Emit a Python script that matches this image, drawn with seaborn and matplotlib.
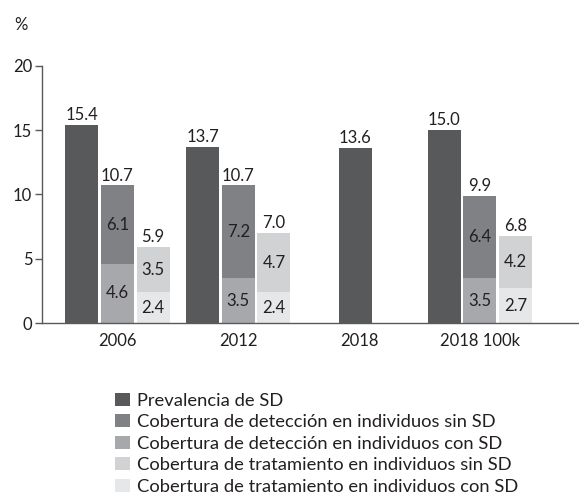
import pandas as pd
import matplotlib
matplotlib.use("Agg")
import matplotlib.pyplot as plt
import seaborn as sns
from matplotlib.patches import Patch

# data
groups = ["2006", "2012", "2018", "2018 100k"]
prevalencia = [15.4, 13.7, 13.6, 15.0]
deteccion_total = [10.7, 10.7, None, 9.9]
deteccion_sin = [6.1, 7.2, None, 6.4]
deteccion_con = [4.6, 3.5, None, 3.5]
tratamiento_total = [5.9, 7.0, None, 6.8]
tratamiento_sin = [3.5, 4.7, None, 4.2]
tratamiento_con = [2.4, 2.4, None, 2.7]

series_names = [
    "Prevalencia de SD",
    "Cobertura de detección en individuos sin SD",
    "Cobertura de detección en individuos con SD",
    "Cobertura de tratamiento en individuos sin SD",
    "Cobertura de tratamiento en individuos con SD",
]
colors = ["#58595b", "#808184", "#a7a8ab", "#d1d2d4", "#e6e7e8"]
text_color = "#231f20"

sns.set_style("white")
plt.rcParams["font.family"] = ["Lato", "DejaVu Sans"]

# bar slots inside each group
offset = 0.295
rows_top = []
rows_bottom = []
for i, g in enumerate(groups):
    if deteccion_total[i] is None:
        # only prevalence: centred on the group
        rows_top.append({"pos": i - 0.03, "value": prevalencia[i], "serie": series_names[0]})
        continue
    rows_top.append({"pos": i - offset, "value": prevalencia[i], "serie": series_names[0]})
    rows_top.append({"pos": float(i), "value": deteccion_total[i], "serie": series_names[1]})
    rows_top.append({"pos": i + offset, "value": tratamiento_total[i], "serie": series_names[3]})
    rows_bottom.append({"pos": float(i), "value": deteccion_con[i], "serie": series_names[2]})
    rows_bottom.append({"pos": i + offset, "value": tratamiento_con[i], "serie": series_names[4]})

df_top = pd.DataFrame(rows_top)
df_bottom = pd.DataFrame(rows_bottom)
palette = dict(zip(series_names, colors))

fig = plt.figure(figsize=(5.79, 4.98), dpi=100)
ax = fig.add_axes([0.0725, 0.3514, 0.9275, 0.5161])

sns.barplot(data=df_top, x="pos", y="value", hue="serie", palette=palette,
            native_scale=True, dodge=False, width=0.925, legend=False,
            linewidth=0, saturation=1, ax=ax)
sns.barplot(data=df_bottom, x="pos", y="value", hue="serie", palette=palette,
            native_scale=True, dodge=False, width=0.925, legend=False,
            linewidth=0, saturation=1, ax=ax)

# value labels
fs = 12
for _, r in df_top.iterrows():
    ax.text(r["pos"], r["value"] + 0.15, f"{r['value']:.1f}", ha="center", va="bottom",
            fontsize=fs, color=text_color)
for i in range(len(groups)):
    if deteccion_total[i] is None:
        continue
    for x, con, sin, tot in [(i, deteccion_con[i], deteccion_sin[i], deteccion_total[i]),
                             (i + offset, tratamiento_con[i], tratamiento_sin[i], tratamiento_total[i])]:
        ax.text(x, con / 2, f"{con:.1f}", ha="center", va="center", fontsize=fs, color=text_color)
        ax.text(x, (con + tot) / 2, f"{sin:.1f}", ha="center", va="center", fontsize=fs, color=text_color)

ax.set_xlim(-0.624, 3.82)
ax.set_ylim(0, 20)
ax.set_yticks([0, 5, 10, 15, 20])
ax.set_xticks(range(len(groups)))
ax.set_xticklabels(groups)
ax.set_xlabel("")
ax.set_ylabel("")
ax.tick_params(axis="y", length=5, width=1, color="#58595b", left=True, labelsize=fs,
               labelcolor=text_color, pad=2)
ax.tick_params(axis="x", length=0, labelsize=fs, labelcolor=text_color, pad=7)
for s in ["top", "right"]:
    ax.spines[s].set_visible(False)
for s in ["left", "bottom"]:
    ax.spines[s].set_color("#58595b")
    ax.spines[s].set_linewidth(1)

fig.text(0.024, 0.95, "%", fontsize=fs, color=text_color, ha="left", va="center")

handles = [Patch(facecolor=c, edgecolor="none") for c in colors]
fig.legend(handles, series_names, loc="center left", bbox_to_anchor=(0.1986, 0.109),
           bbox_transform=fig.transFigure, frameon=False, fontsize=13.2,
           handlelength=0.82, handleheight=0.71, handletextpad=0.38, labelspacing=0.3,
           borderaxespad=0, borderpad=0, labelcolor=text_color)

fig.savefig("out.png", dpi=100)
